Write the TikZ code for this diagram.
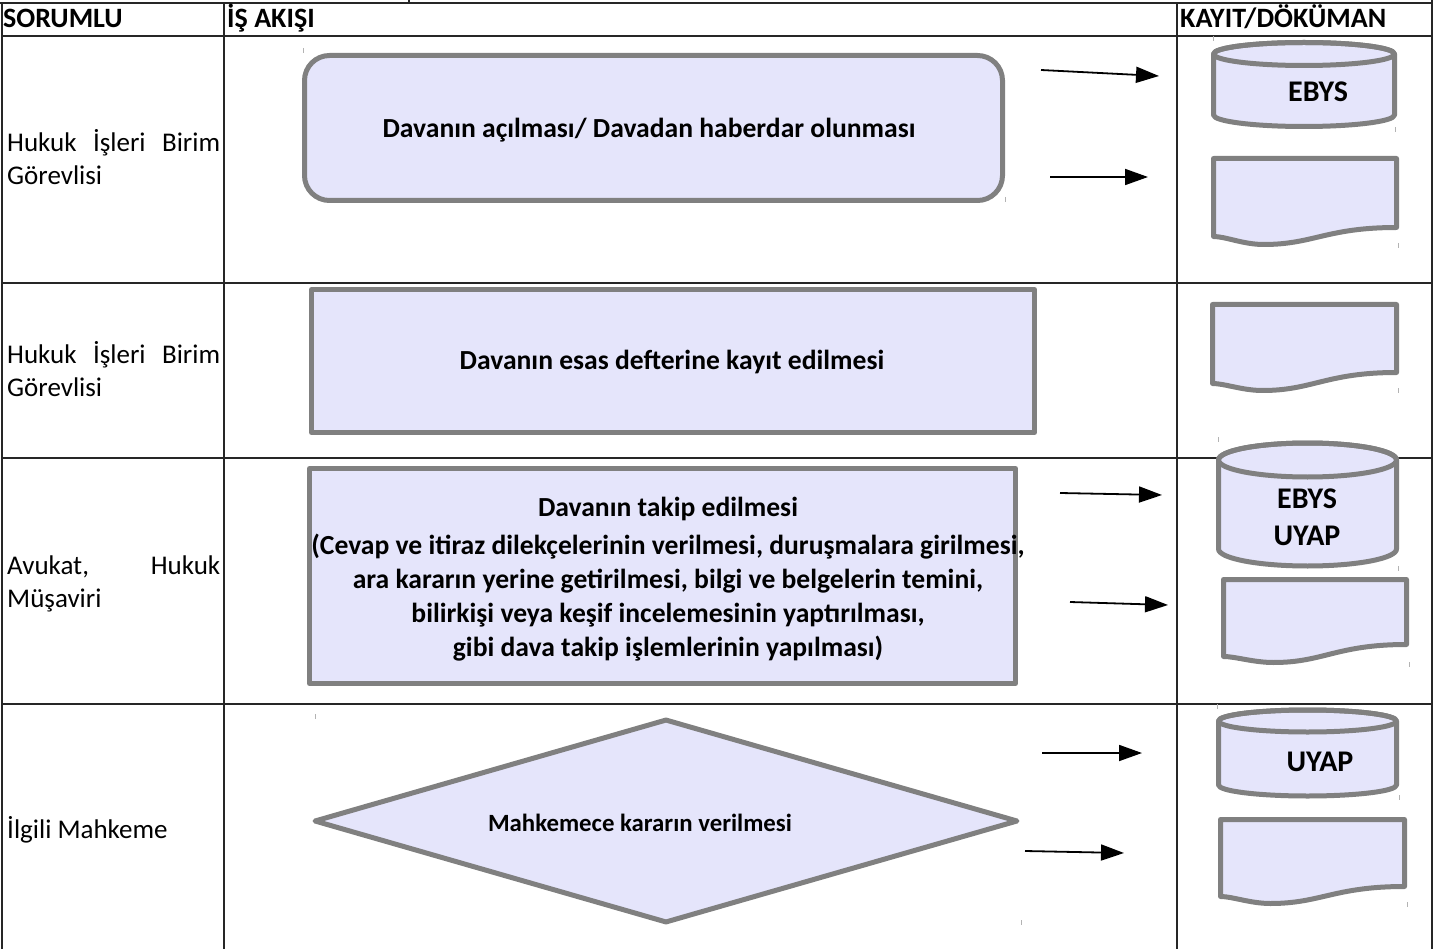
\documentclass[tikz,border=0pt]{standalone}
\usepackage{fontspec}
\setmainfont{Carlito}
\usetikzlibrary{shapes.geometric,arrows.meta}
\definecolor{shfill}{RGB}{229,229,251}
\definecolor{shdraw}{RGB}{128,128,128}
\newcommand{\mydoc}[7]{%
  \draw[shp] (#2,#4) -- (#3,#4) -- (#3,#5)
    .. controls (#3-70,#5) and (#2+100,#7) .. (#2+50,#7)
    .. controls (#2+30,#7) and (#2+12,#6) .. (#2,#6) -- cycle;
  \coordinate (#1) at (#2/2+#3/2,#4/2+#5/2);}
\newcommand{\mycyl}[6]{%
  \draw[shp] (#2-#4,#3) -- (#2-#4,#6)
    arc[start angle=180,end angle=360,x radius=#4 pt,y radius=#5 pt]
    -- (#2+#4,#3)
    arc[start angle=0,end angle=180,x radius=#4 pt,y radius=#5 pt] -- cycle;
  \draw[shp,fill=none] (#2,#3) ellipse[x radius=#4 pt,y radius=#5 pt];
  \coordinate (#1) at (#2,#3/2+#6/2);}
\begin{document}
\begin{tikzpicture}[x=1pt,y=-1pt,
  tbl/.style={line width=1.6pt, draw=black!85},
  shp/.style={draw=shdraw, fill=shfill, line width=5pt, line join=round},
  boxtxt/.style={inner sep=0pt, font=\fontsize{27.6}{34}\selectfont\bfseries, align=center},
  lbl/.style={anchor=base west, inner sep=0pt, font=\fontsize{27}{33}\selectfont},
  hdr/.style={anchor=base west, inner sep=0pt, font=\fontsize{28}{30}\selectfont\bfseries},
  cyltxt/.style={inner sep=0pt, font=\fontsize{30}{37}\selectfont\bfseries, align=center},
  arr/.style={line width=1.8pt, -{Triangle[length=23pt,width=16pt]}},
  tickmark/.style={draw=shdraw!60, line width=0.8pt}
]
\useasboundingbox (0,0) rectangle (1456,949);
% table
\draw[tbl] (0,3) -- (1432,3);
\draw[tbl] (409,0) -- (409,3);
\draw[tbl] (2,3) -- (2,949);
\draw[tbl] (224,3) -- (224,949);
\draw[tbl] (1177,3) -- (1177,949);
\draw[tbl] (1432,0) -- (1432,949);
\foreach \yy in {36,283,458,704} \draw[tbl] (2,\yy) -- (1432,\yy);
% headers
\node[hdr] (h1) at (3,28) {SORUMLU};
\node[hdr] (h2) at (227,28) {İŞ AKIŞI};
\node[hdr] (h3) at (1180,28) {KAYIT/DÖKÜMAN};
% left labels
\node[lbl] (l1a) at (7,152) {\makebox[213pt][s]{Hukuk İşleri Birim}};
\node[lbl] (l1b) at (7,185) {Görevlisi};
\node[lbl] (l2a) at (7,363) {\makebox[213pt][s]{Hukuk İşleri Birim}};
\node[lbl] (l2b) at (7,396) {Görevlisi};
\node[lbl] (l3a) at (7,574) {\makebox[213pt][s]{Avukat, Hukuk}};
\node[lbl] (l3b) at (7,607) {Müşaviri};
\node[lbl] (l4a) at (7,838) {İlgili Mahkeme};
% flow shapes
\node[shp, rectangle, rounded corners=25pt, minimum width=698pt, minimum height=145pt] (s1) at (653.5,128) {};
\node[boxtxt] (t1) at (649,130) {Davanın açılması/ Davadan haberdar olunması};
\node[shp, rectangle, minimum width=723pt, minimum height=143pt] (s2) at (673,361) {};
\node[boxtxt] (t2) at (672,362) {Davanın esas defterine kayıt edilmesi};
\node[shp, rectangle, minimum width=706pt, minimum height=215pt] (s3) at (662.5,576) {};
\node[boxtxt] (t3) at (668,579) {Davanın takip edilmesi\\[4pt]
(Cevap ve itiraz dilekçelerinin verilmesi, duruşmalara girilmesi,\\
ara kararın yerine getirilmesi, bilgi ve belgelerin temini,\\
bilirkişi veya keşif incelemesinin yaptırılması,\\
gibi dava takip işlemlerinin yapılması)};
\node[shp, diamond, inner sep=0pt, minimum width=704pt, minimum height=204pt] (s4) at (666,821) {};
\node[inner sep=0pt, font=\fontsize{24.8}{28}\selectfont\bfseries] (t4) at (640,823) {Mahkemece kararın verilmesi};
% records
\mycyl{c1}{1304}{54}{90.5}{11.5}{115}
\node[cyltxt] (c1t) at (1318,92) {EBYS};
\mydoc{d1}{1213.5}{1396.5}{158.5}{227.5}{236.5}{244.5}
\mydoc{d2}{1212.5}{1396.5}{304.5}{372.5}{383.5}{390.5}
\mycyl{c2}{1307.5}{460}{89}{17}{549}
\node[cyltxt] (c2t) at (1307,517) {EBYS\\UYAP};
\mydoc{d3}{1223.5}{1406.5}{579.5}{644.5}{656.5}{662.5}
\mycyl{c3}{1307.5}{721}{89}{11}{785}
\node[cyltxt] (c3t) at (1320,762) {UYAP};
\mydoc{d4}{1220.5}{1404.5}{819.5}{886.5}{896.5}{903.5}
% arrows
\coordinate (a1s) at (1041,70);  \coordinate (a1e) at (1159,76);
\coordinate (a2s) at (1050,177); \coordinate (a2e) at (1148,177);
\coordinate (a3s) at (1060,493); \coordinate (a3e) at (1162,495);
\coordinate (a4s) at (1070,602); \coordinate (a4e) at (1168,605);
\coordinate (a5s) at (1042,753); \coordinate (a5e) at (1142,753);
\coordinate (a6s) at (1025,851); \coordinate (a6e) at (1124,853);
\draw[arr] (a1s) -- (a1e);
\draw[arr] (a2s) -- (a2e);
\draw[arr] (a3s) -- (a3e);
\draw[arr] (a4s) -- (a4e);
\draw[arr] (a5s) -- (a5e);
\draw[arr] (a6s) -- (a6e);
% tiny marks
\foreach \xx/\yy in {303/48,1005/197,1213/36,1395/127,1398/243,1398/388,1218/437,1398/566,1409/662,1217/704,1399/795,1407/902,1021/920,315/714}
  \draw[tickmark] (\xx,\yy) -- (\xx,\yy+5);
\end{tikzpicture}
\end{document}
